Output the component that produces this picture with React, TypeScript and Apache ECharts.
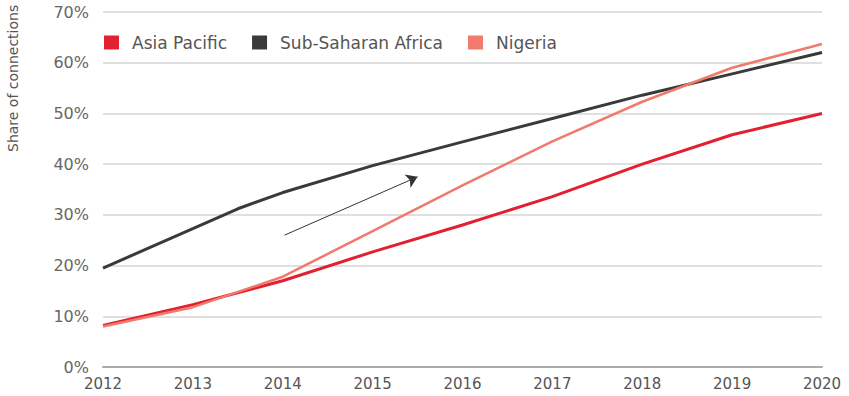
import React, { useEffect, useRef } from "react";
import * as echarts from "echarts";

const years = [2012, 2013, 2014, 2015, 2016, 2017, 2018, 2019, 2020];
const asiaPacific = [8.2, 12.3, 17, 22.7, 28, 33.6, 40, 45.8, 50];
const ssaYears = [2012, 2013.5, 2014, 2015, 2016, 2017, 2018, 2019, 2020];
const subSaharanAfrica = [19.5, 31.2, 34.4, 39.7, 44.4, 49, 53.6, 57.8, 62];
const nigeria = [8, 11.8, 17.8, 26.8, 35.8, 44.5, 52.3, 59, 63.7];
const yTicks = [0, 10, 20, 30, 40, 50, 60, 70];
const arrowFrom = [2014.02, 26];
const arrowTo = [2015.5, 37.5];

const FONT = "DejaVu Sans";

const pairs = (xs: number[], ys: number[]) => xs.map((x, i) => [x, ys[i]]);

export default function App() {
  const ref = useRef<HTMLDivElement>(null);
  useEffect(() => {
    if (!ref.current) return;
    const chart = echarts.init(ref.current, null, { renderer: "svg" });
    chart.setOption({
      animation: false,
      textStyle: { fontFamily: FONT },
      grid: { left: 103, right: 27, top: 12, bottom: 29 },
      legend: {
        left: 99,
        top: 29,
        icon: "rect",
        itemWidth: 15,
        itemHeight: 14,
        itemGap: 25,
        textStyle: { fontSize: 17, color: "#555", fontFamily: FONT, padding: [0, 0, 0, 8] },
        data: ["Asia Pacific", "Sub-Saharan Africa", "Nigeria"],
      },
      graphic: [
        {
          type: "text",
          x: 6,
          y: 152,
          rotation: Math.PI / 2,
          style: {
            text: "Share of connections",
            fontSize: 14,
            fill: "#555",
            fontFamily: FONT,
          },
        },
      ],
      xAxis: {
        type: "value",
        min: years[0],
        max: years[years.length - 1],
        interval: 1,
        axisLine: { show: true, lineStyle: { color: "#aaa", width: 2 } },
        axisTick: { show: false },
        axisLabel: { fontSize: 15, color: "#555", margin: 9, formatter: (v: number) => String(v) },
        splitLine: { show: false },
      },
      yAxis: {
        type: "value",
        min: yTicks[0],
        max: yTicks[yTicks.length - 1],
        interval: 10,
        axisLine: { show: false },
        axisTick: { show: false },
        axisLabel: { fontSize: 16, color: "#666", margin: 14, formatter: "{value}%" },
        splitLine: { lineStyle: { color: "#d6d6d6", width: 1.5 } },
      },
      series: [
        {
          name: "Asia Pacific",
          type: "line",
          data: pairs(years, asiaPacific),
          symbol: "none",
          color: "#e2202f",
          lineStyle: { width: 3 },
          z: 3,
        },
        {
          name: "Sub-Saharan Africa",
          type: "line",
          data: pairs(ssaYears, subSaharanAfrica),
          symbol: "none",
          color: "#3a3a3a",
          lineStyle: { width: 3 },
          z: 2,
          markLine: {
            silent: true,
            symbol: ["none", "arrow"],
            symbolSize: 11,
            label: { show: false },
            lineStyle: { color: "#333", width: 1, type: "solid" },
            data: [[{ coord: arrowFrom }, { coord: arrowTo }]],
          },
        },
        {
          name: "Nigeria",
          type: "line",
          data: pairs(years, nigeria),
          symbol: "none",
          color: "#f07a6c",
          lineStyle: { width: 2.5 },
          z: 4,
        },
      ],
    });
    return () => chart.dispose();
  }, []);
  return <div ref={ref} style={{ width: 849, height: 396, position: "absolute", left: 0, top: 0 }} />;
}
